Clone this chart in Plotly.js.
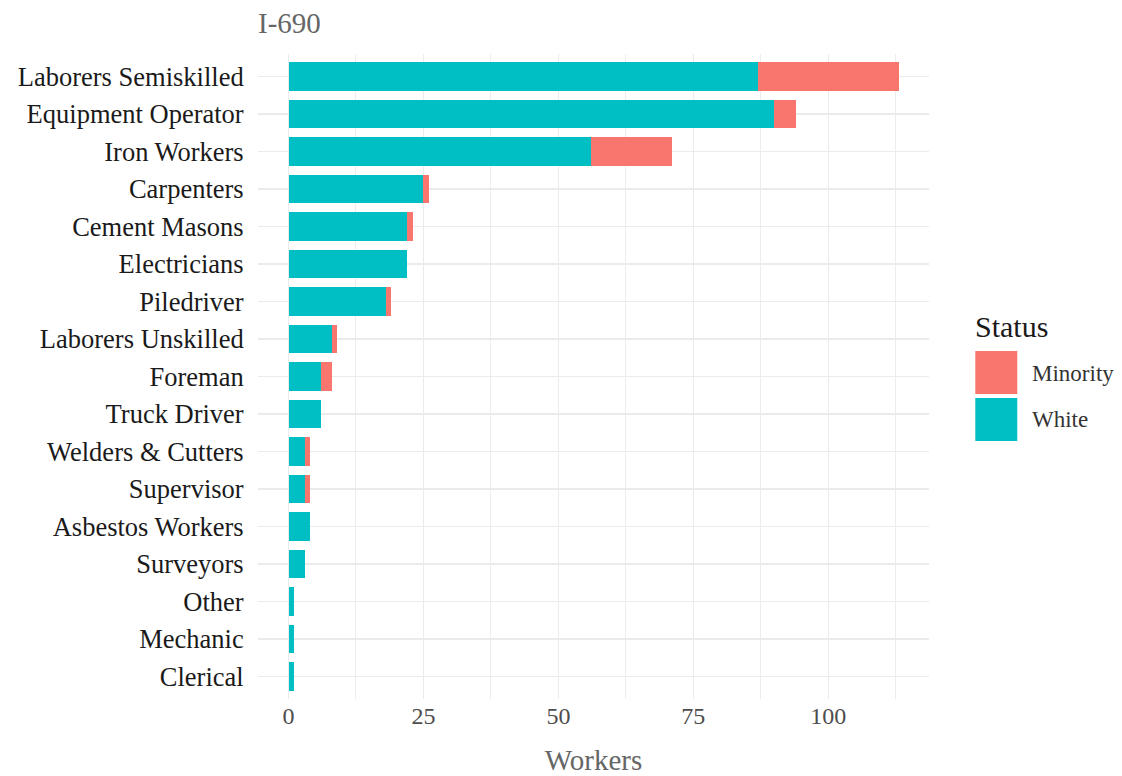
<!DOCTYPE html>
<html>
<head>
<meta charset="utf-8">
<script src="https://cdn.plot.ly/plotly-3.0.1.min.js"></script>
<style>html,body{margin:0;padding:0;background:#fff;}#chart{width:1122px;height:776px;}</style>
</head>
<body>
<div id="chart"></div>
<script>
const categories = ["Laborers Semiskilled","Equipment Operator","Iron Workers","Carpenters","Cement Masons","Electricians","Piledriver","Laborers Unskilled","Foreman","Truck Driver","Welders & Cutters","Supervisor","Asbestos Workers","Surveyors","Other","Mechanic","Clerical"];
const whiteWorkers =    [87, 90, 56, 25, 22, 22, 18, 8, 6, 6, 3, 3, 4, 3, 1, 1, 1];
const minorityWorkers = [26, 4, 15, 1, 1, 0, 1, 1, 2, 0, 1, 1, 0, 0, 0, 0, 0];
const xTicks = [0, 25, 50, 75, 100];
const legendNames = ["Minority", "White"];
const legendColors = ["#F8766D", "#00BFC4"];

const FONT = "Liberation Serif, Times New Roman, serif";
const L = 257.5, R = 928.7, T = 53.5, B = 699.5, W = 1122, H = 776;
const px = x => (x - L) / (R - L);
const py = y => (B - y) / (B - T);

const traces = [
  {type:'bar', orientation:'h', name:'White', y:categories, x:whiteWorkers,
   marker:{color:'#00BFC4', line:{width:0}}, width:0.75, showlegend:false, hoverinfo:'x+y+name'},
  {type:'bar', orientation:'h', name:'Minority', y:categories, x:minorityWorkers,
   marker:{color:'#F8766D', line:{width:0}}, width:0.75, showlegend:false, hoverinfo:'x+y+name'}
];

const maxTotal = Math.max(...whiteWorkers.map((w,i)=>w+minorityWorkers[i]));
const pad = maxTotal * 0.05;

const shapes = [];
const annotations = [];
annotations.push({xref:'paper', yref:'paper', x:px(973), y:py(326), xanchor:'left', yanchor:'middle',
  text:'Status', showarrow:false, font:{family:FONT, size:30, color:'#1a1a1a'}});
legendNames.forEach((n,i)=>{
  const top = 351 + i*47;
  shapes.push({type:'rect', xref:'paper', yref:'paper', x0:px(975), x1:px(1017), y0:py(top+43), y1:py(top),
    fillcolor:legendColors[i], line:{width:0}});
  annotations.push({xref:'paper', yref:'paper', x:px(1030), y:py(top+22), xanchor:'left', yanchor:'middle',
    text:n, showarrow:false, font:{family:FONT, size:23, color:'#333'}});
});

const layout = {
  width:W, height:H,
  paper_bgcolor:'#fff', plot_bgcolor:'#fff',
  margin:{l:L, r:W-R, t:T, b:H-B, pad:0},
  barmode:'stack', bargap:0.25,
  showlegend:false,
  title:{text:'I-690', font:{family:FONT, size:29, color:'#666'}, xref:'paper', x:0, xanchor:'left',
         yref:'container', y:1-23/H, yanchor:'middle'},
  xaxis:{range:[-pad, maxTotal+pad], tickvals:xTicks, ticktext:xTicks.map(String),
         showgrid:true, gridcolor:'#EBEBEB', gridwidth:1.6, zeroline:false, showline:false,
         ticks:'', ticklabelstandoff:0,
         tickfont:{family:FONT, size:24, color:'#4d4d4d'},
         minor:{tickvals:[12.5,37.5,62.5,87.5,112.5], showgrid:true, gridcolor:'#EBEBEB', gridwidth:0.9},
         title:{text:'Workers', font:{family:FONT, size:29, color:'#666'}, standoff:26}},
  yaxis:{type:'category', categoryorder:'array', categoryarray:categories,
         range:[categories.length-0.4, -0.6],
         showgrid:true, gridcolor:'#EBEBEB', gridwidth:1.6, zeroline:false, showline:false,
         ticks:'outside', ticklen:8, tickcolor:'rgba(0,0,0,0)',
         tickfont:{family:FONT, size:26.5, color:'#1a1a1a'}},
  shapes:shapes, annotations:annotations
};

Plotly.newPlot('chart', traces, layout, {displayModeBar:false, staticPlot:true});
</script>
</body>
</html>
